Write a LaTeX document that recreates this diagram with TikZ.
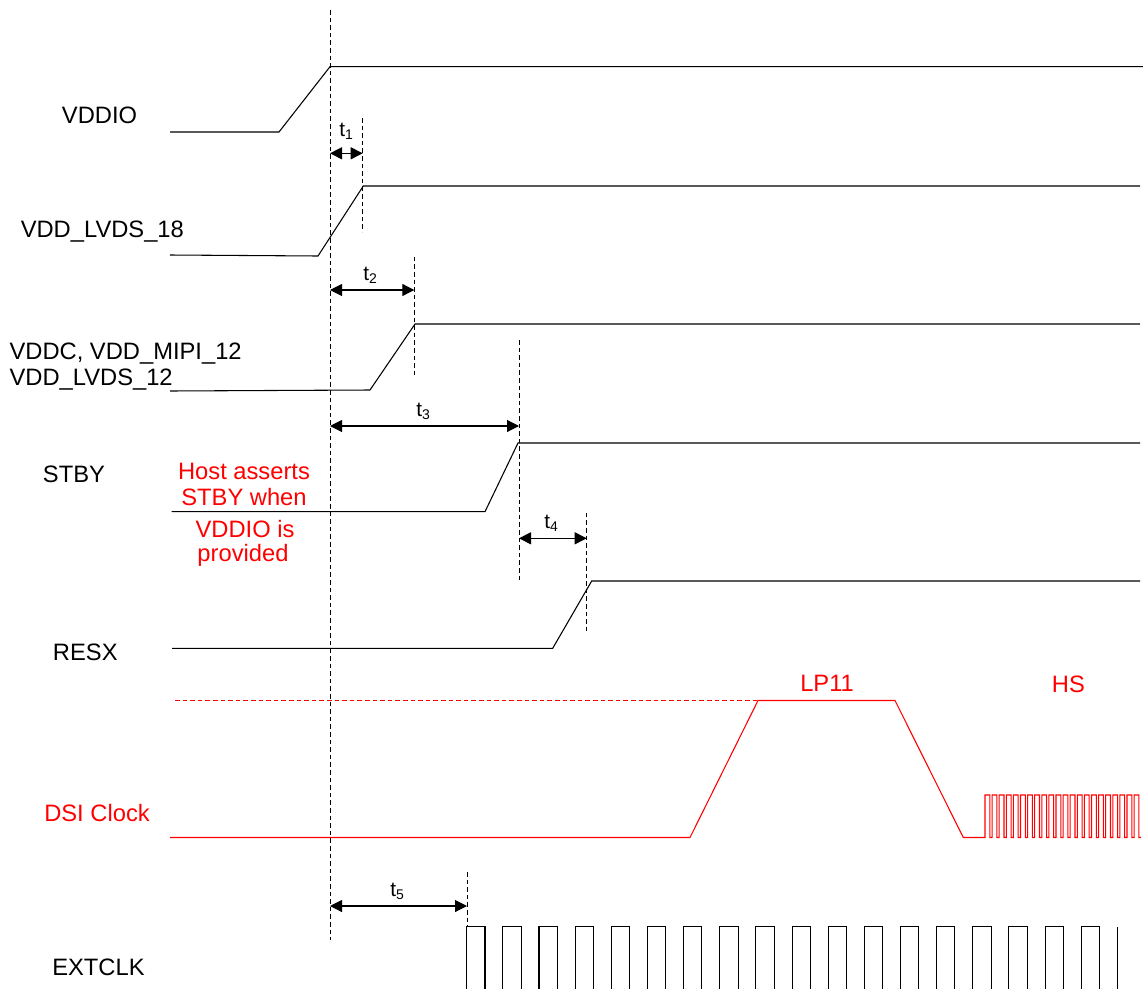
\documentclass[tikz,border=0pt]{standalone}
\usepackage{fontspec}
\setmainfont{Liberation Sans}
\usetikzlibrary{arrows.meta}
\newcommand\tsub[1]{t\raisebox{-0.3ex}{\fontsize{10.5}{12}\selectfont #1}}
\begin{document}
\begin{tikzpicture}[x=0.75pt,y=-0.75pt,
  sig/.style={line width=0.8pt},
  rsig/.style={line width=0.8pt,red},
  guide/.style={line width=0.6pt,dash pattern=on 3.5pt off 2.2pt},
  rguide/.style={guide,red},
  dim/.style={line width=0.8pt,{Triangle[length=9pt,width=9pt]}-{Triangle[length=9pt,width=9pt]}},
  lbl/.style={anchor=base west,inner sep=0pt,font=\fontsize{17.8}{21}\selectfont},
  rlbl/.style={lbl,text=red},
  rnote/.style={anchor=base,inner sep=0pt,text=red,font=\fontsize{17.8}{21}\selectfont},
  tl/.style={anchor=base west,inner sep=0pt,font=\fontsize{15.5}{18}\selectfont}]
\useasboundingbox (0,0) rectangle (1143,989);

% signal labels
\node[lbl] (lvddio) at (61.7,123.3) {VDDIO};
\node[lbl] (llvds18) at (20.5,237.3) {VDD\_LVDS\_18};
\node[lbl] (lvddc) at (9.3,359.3) {VDDC, VDD\_MIPI\_12};
\node[lbl] (llvds12) at (9.3,385) {VDD\_LVDS\_12};
\node[lbl] (lstby) at (42.7,482) {STBY};
\node[lbl] (lresx) at (52.7,660.7) {RESX};
\node[rlbl] (ldsi) at (44,821) {DSI Clock};
\node[lbl] (lext) at (52,975) {EXTCLK};
\node[rnote] (note1) at (244,479.3) {Host asserts};
\node[rnote] (note2) at (244,505) {STBY when};
\node[rnote] (note3) at (245,537.3) {VDDIO is};
\node[rnote] (note4) at (243,561) {provided};
\node[rlbl] (llp) at (800,691) {LP11};
\node[rlbl] (lhs) at (1051.7,692.7) {HS};

% main reference line
\coordinate (ref0) at (330,10);
\coordinate (ref1) at (330,940);
\draw[guide] (ref0) -- (ref1);

% waveforms
\draw[sig] (170,132) -- (279,132) -- (330,66.7) -- (1143,66.7);
\draw[sig] (170,255) -- (318,256) -- (363.3,186) -- (1140,186);
\draw[sig] (170,391) -- (370,390) -- (415,324) -- (1140,324);
\draw[sig] (171.7,511.7) -- (485,511.7) -- (518,443) -- (1140,443);
\draw[sig] (172,648.3) -- (552.7,648.3) -- (591.7,581) -- (1140,581);

% DSI clock
\draw[rguide] (175,700.5) -- (758,700.5);
\draw[rsig] (170,837.5) -- (690,837.5) -- (758,700.5) -- (895,700.5) -- (963.3,837.5) -- (985,837.5)
  \foreach \i in {0,...,21}{ -- ++(0,-42.5) -- ++(4.8,0) -- ++(0,42.5) -- ++(2.3,0)};

% EXTCLK
\foreach \i in {0,...,17}{
  \draw[sig] ({466.7+\i*36.15},990) -- ++(0,-63.3) -- ++(18.3,0) -- ++(0,63.3);
}
\draw[sig] (1117.4,990) -- (1117.4,926.7);

% timing guides
\draw[guide] (362.7,118) -- (362.7,232);
\draw[guide] (414.3,256.7) -- (414.3,376.7);
\draw[guide] (519,340) -- (519,582);
\draw[guide] (586.7,512.7) -- (586.7,633.3);
\draw[guide] (467,872) -- (467,926.7);

% dimension arrows
\coordinate (a1) at (330,153.3); \coordinate (b1) at (362.7,153.3);
\coordinate (a2) at (330,290);   \coordinate (b2) at (414.3,290);
\coordinate (a3) at (330,426);   \coordinate (b3) at (519,426);
\coordinate (a4) at (519,538.3); \coordinate (b4) at (586.7,538.3);
\coordinate (a5) at (330,906);   \coordinate (b5) at (467,906);
\draw[dim] (a1) -- (b1);
\draw[dim] (a2) -- (b2);
\draw[dim] (a3) -- (b3);
\draw[dim] (a4) -- (b4);
\draw[dim] (a5) -- (b5);

\node[tl] (t1) at (339,136) {\tsub{1}};
\node[tl] (t2) at (363,280) {\tsub{2}};
\node[tl] (t3) at (416,416.7) {\tsub{3}};
\node[tl] (t4) at (544,528) {\tsub{4}};
\node[tl] (t5) at (390,896) {\tsub{5}};
\end{tikzpicture}
\end{document}
